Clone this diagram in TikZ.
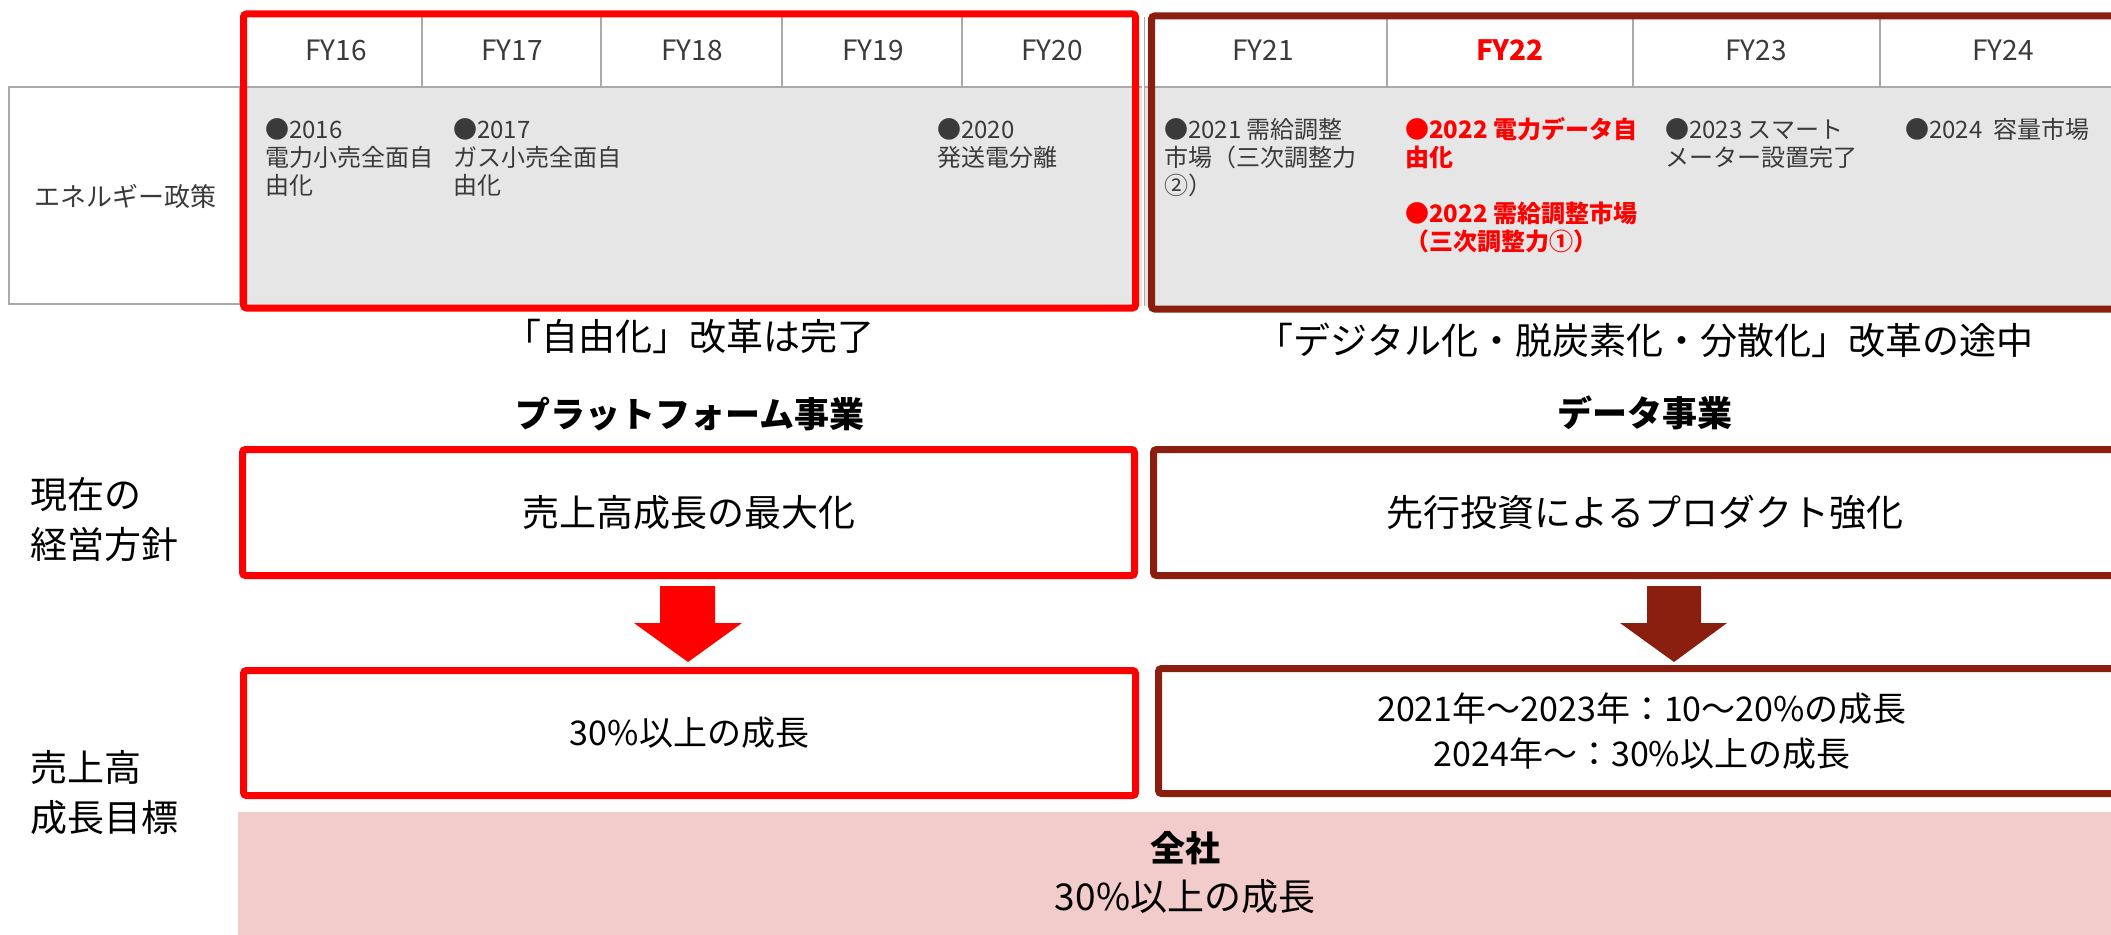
\documentclass[tikz,border=0pt]{standalone}
\usepackage{fontspec}
\setmainfont{Noto Sans CJK JP}
\definecolor{darkred}{HTML}{8B1F0F}
\definecolor{cellgray}{HTML}{E6E6E6}
\definecolor{linegray}{HTML}{AAAAAA}
\definecolor{txtgray}{HTML}{3A3A3A}
\definecolor{pinkband}{HTML}{F2CBCB}
\tikzset{
  tb/.style={font=\fontsize{24}{28}\selectfont, text=txtgray, inner sep=0pt, anchor=base west},
  tbred/.style={tb, text=red, font=\fontsize{24}{28}\selectfont\bfseries},
  fyhead/.style={font=\fontsize{28}{30}\selectfont, text=txtgray, inner sep=0pt},
  bigtxt/.style={font=\fontsize{37}{45}\selectfont, text=black, inner sep=0pt, align=center},
  goaltxt/.style={font=\fontsize{34}{45}\selectfont, text=black, inner sep=0pt, align=center},
  bigbold/.style={bigtxt, font=\fontsize{35}{44}\selectfont\bfseries},
  sidelbl/.style={font=\fontsize{37}{50}\selectfont, text=black, inner sep=0pt, anchor=west, align=left},
  redbox/.style={draw=red, line width=7pt, rounded corners=3pt, fill=white, inner sep=0pt},
  darkbox/.style={draw=darkred, line width=7pt, rounded corners=3pt, fill=white, inner sep=0pt},
  redframe/.style={draw=red, line width=7pt, rounded corners=3pt, inner sep=0pt},
  darkframe/.style={draw=darkred, line width=7pt, rounded corners=3pt, inner sep=0pt},
}
\begin{document}
\begin{tikzpicture}[x=1pt,y=-1pt]
\useasboundingbox (0,0) rectangle (2111,934);
% ---- policy table ----
\fill[cellgray] (240,87) rectangle (2140,306);
\draw[linegray, line width=2pt, fill=white] (9,87) rectangle (240,304);
\node[font=\fontsize{26}{28}\selectfont, text=txtgray, inner sep=0pt] (policy) at (125,196) {エネルギー政策};
\draw[linegray, line width=2pt] (240,87) -- (2140,87);
\foreach \x in {422,601,782,962,1387,1633,1880}
  \draw[linegray, line width=1.5pt] (\x,17) -- (\x,87);
\draw[white, line width=2pt] (1143,17) -- (1143,306);
\draw[linegray, line width=1pt] (1144.5,17) -- (1144.5,306);
% FY headers
\node[fyhead] (fy16) at (336,50) {FY16};
\node[fyhead] (fy17) at (512,50) {FY17};
\node[fyhead] (fy18) at (692,50) {FY18};
\node[fyhead] (fy19) at (873,50) {FY19};
\node[fyhead] (fy20) at (1052,50) {FY20};
\node[fyhead] (fy21) at (1263,50) {FY21};
\node[fyhead, text=red, font=\fontsize{28}{30}\selectfont\bfseries] (fy22) at (1510,50) {FY22};
\node[fyhead] (fy23) at (1756,50) {FY23};
\node[fyhead] (fy24) at (2003,50) {FY24};
% policy items
\node[tb] (p16a) at (265,138) {●2016};
\node[tb] (p16b) at (265,166) {電力小売全面自};
\node[tb] (p16c) at (265,194) {由化};
\node[tb] (p17a) at (453,138) {●2017};
\node[tb] (p17b) at (453,166) {ガス小売全面自};
\node[tb] (p17c) at (453,194) {由化};
\node[tb] (p20a) at (937,138) {●2020};
\node[tb] (p20b) at (937,166) {発送電分離};
\node[tb] (p21a) at (1164,138) {●2021 需給調整};
\node[tb] (p21b) at (1164,166) {市場（三次調整力};
\node[tb] (p21c) at (1164,194) {②）};
\node[tbred] (p22a) at (1405,138) {●2022 電力データ自};
\node[tbred] (p22b) at (1405,166) {由化};
\node[tbred] (p22c) at (1405,222) {●2022 需給調整市場};
\node[tbred] (p22d) at (1405,250) {（三次調整力①）};
\node[tb] (p23a) at (1665,138) {●2023 スマート};
\node[tb] (p23b) at (1665,166) {メーター設置完了};
\node[tb] (p24a) at (1905,138) {●2024\ \ 容量市場};
% frames
\node[redframe, minimum width=892pt, minimum height=294pt] (libframe) at (689.5,311.5) [anchor=south] {};
\node[darkframe, minimum width=980pt, minimum height=293pt] (digframe) at (1641.5,12.5) [anchor=north] {};
% captions
\node[bigtxt] (libcap) at (689,336) {「自由化」改革は完了};
\node[bigtxt] (digcap) at (1645,340) {「デジタル化・脱炭素化・分散化」改革の途中};
\node[bigbold] (pfhead) at (690,414) {プラットフォーム事業};
\node[bigbold] (dthead) at (1645,413) {データ事業};
% side labels
\node[sidelbl] (lbl1) at (30,520) {現在の\\経営方針};
\node[sidelbl] (lbl2) at (30,793) {売上高\\成長目標};
% policy boxes
\node[redbox, bigtxt, minimum width=892pt, minimum height=126pt] (pfbox) at (688.5,512.5) {売上高成長の最大化};
\node[darkbox, bigtxt, minimum width=983pt, minimum height=126pt] (dtbox) at (1645,512.5) {先行投資によるプロダクト強化};
% arrows
\fill[red] (660,586) -- (715,586) -- (715,623) -- (742,623) -- (688,662) -- (634,623) -- (660,623) -- cycle;
\fill[darkred] (1647,586) -- (1701,586) -- (1701,623) -- (1727,623) -- (1674,662) -- (1620,623) -- (1647,623) -- cycle;
% target boxes
\node[redbox, goaltxt, minimum width=892pt, minimum height=125pt] (pfgoal) at (689.5,733) {30\%以上の成長};
\node[darkbox, goaltxt, minimum width=967pt, minimum height=125pt] (dtgoal) at (1642,731) {2021年～2023年：10～20\%の成長\\2024年～：30\%以上の成長};
% company band
\fill[pinkband] (238,812) rectangle (2140,940);
\node[bigbold] (zensha) at (1185,848) {全社};
\node[bigtxt] (zgoal) at (1185,897) {30\%以上の成長};
\end{tikzpicture}
\end{document}
